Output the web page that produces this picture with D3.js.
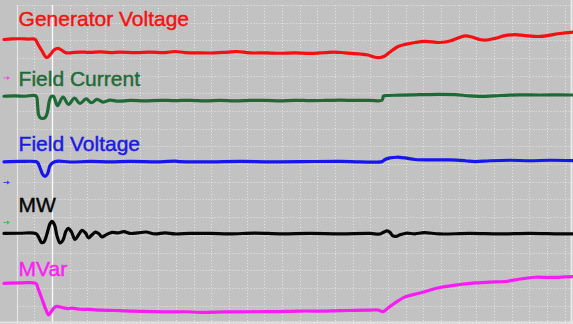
<!DOCTYPE html>
<html>
<head>
<meta charset="utf-8">
<script src="https://cdn.jsdelivr.net/npm/d3@7/dist/d3.min.js"></script>
<style>
  html, body { margin: 0; padding: 0; background: #c2c2c2; }
  svg { display: block; }
  text { font-family: "Liberation Sans", Arial, Helvetica, sans-serif; }
</style>
</head>
<body>
<svg id="scope" width="573" height="324"></svg>
<script>
// Time in screen divisions, deflection in divisions from each channel's zero level.
const genVoltT = [-0.72,-0.27,0.19,0.64,1.04,1.20,1.43,1.69,1.88,2.11,2.34,2.56,2.82,3.13,3.58,4.15,4.71,5.28,5.84,6.69,7.54,8.39,8.95,9.52,10.37,11.22,11.95,12.46,13.20,14.04,14.89,15.74,16.59,17.44,18.00,18.57,19.42,19.87,20.21,20.55,20.77,21.11,21.57,21.96,22.53,23.09,23.94,24.51,24.96,25.36,25.75,26.20,26.60,27.05,27.62,28.19,28.75,29.60,30.17,30.73,31.46];
const genVoltV = [-0.01,0.02,0.03,0.01,0,-0.27,-0.66,-1.03,-0.89,-0.61,-0.51,-0.63,-0.77,-0.75,-0.72,-0.74,-0.71,-0.75,-0.72,-0.75,-0.72,-0.75,-0.69,-0.75,-0.77,-0.77,-0.72,-0.69,-0.77,-0.77,-0.79,-0.77,-0.80,-0.75,-0.72,-0.77,-0.83,-0.89,-1.00,-1.03,-0.97,-0.72,-0.41,-0.29,-0.18,-0.12,-0.18,-0.10,0.07,0.19,0.13,-0.01,-0.04,0.05,0.21,0.27,0.21,0.16,0.24,0.33,0.41];

const fieldCurT = [-0.72,-0.10,0.47,1.09,1.18,1.23,1.32,1.46,1.63,1.74,1.83,1.94,2.08,2.31,2.62,2.93,3.27,3.58,3.92,4.23,4.54,4.88,5.28,5.73,6.41,7.26,8.11,8.95,9.80,10.65,11.50,12.35,13.20,14.04,14.89,15.74,16.59,17.44,18.29,19.13,19.98,20.66,20.75,20.89,21.68,22.81,23.94,24.79,25.64,26.49,27.34,28.47,29.60,30.73,31.46];
const fieldCurV = [-0.01,0.01,-0.01,0,-0.51,-1.02,-1.22,-1.27,-1.19,-0.90,-0.34,-0.04,-0.02,-0.54,-0.06,-0.47,-0.12,-0.42,-0.16,-0.38,-0.19,-0.34,-0.23,-0.29,-0.25,-0.27,-0.24,-0.26,-0.24,-0.27,-0.25,-0.27,-0.25,-0.24,-0.27,-0.24,-0.26,-0.25,-0.23,-0.25,-0.24,-0.24,0,0.03,0.05,0.08,0.10,0.08,0.01,-0.02,0.03,0.07,0.06,0.07,0.06];

const fieldVoltT = [-0.72,0.19,1.09,1.20,1.32,1.46,1.60,1.74,1.88,2.05,2.34,3.01,4.15,5.28,6.41,8.11,8.95,9.24,10.93,12.63,14.33,16.02,18.29,19.42,20.66,20.83,21.11,21.51,21.96,22.53,23.37,24.51,25.36,25.92,26.77,27.90,29.03,30.16,31.46];
const fieldVoltV = [-0.01,0.01,0,-0.07,-0.36,-0.70,-0.84,-0.70,-0.24,-0.05,0.03,-0.02,0.01,-0.01,0.01,-0.01,0.03,0,-0.01,0.01,-0.01,0,0.02,-0.01,0,0.12,0.21,0.25,0.21,0.12,0.10,0.10,0.05,0,0.05,0.08,0.05,0.08,0.06];

const mwT = [-0.72,0.19,1.09,1.26,1.40,1.54,1.71,1.88,2.00,2.14,2.28,2.45,2.62,2.79,2.93,3.10,3.30,3.50,3.69,3.89,4.06,4.26,4.46,4.66,4.82,5.05,5.39,5.73,6.07,6.41,6.86,7.31,7.82,8.39,8.95,9.80,10.93,12.06,13.48,14.89,16.59,18.29,19.98,20.55,20.78,20.94,21.11,21.28,21.45,21.68,22.02,22.53,23.04,23.94,25.64,27.34,29.03,30.73,31.46];
const mwV = [0,0.01,-0.01,-0.25,-0.51,-0.48,-0.03,0.54,0.68,0.48,-0.14,-0.54,-0.37,0.14,0.29,0.08,-0.34,-0.08,0.17,0.03,-0.25,-0.08,0.07,-0.03,-0.20,-0.08,0.06,0.03,0.10,0,0.03,0.08,-0.03,0.03,-0.03,0,0,-0.03,0.02,-0.02,0,-0.02,0,-0.03,0.08,0.14,0.06,-0.14,-0.17,-0.08,0.01,-0.02,0.04,-0.03,0,-0.03,0,-0.03,-0.02];

const mvarT = [-0.72,0.19,1.09,1.20,1.43,1.66,1.80,1.94,2.11,2.28,2.56,2.90,3.13,3.58,4.15,4.71,5.56,6.41,7.54,8.67,9.52,10.37,11.78,13.20,14.61,16.02,17.44,18.85,19.98,20.43,20.72,21.00,21.40,21.96,22.81,23.94,25.07,25.92,26.77,27.62,28.47,29.32,30.16,31.01,31.46];
const mvarV = [0,0.02,-0.01,-0.27,-0.89,-1.51,-1.79,-1.62,-1.40,-1.31,-1.37,-1.43,-1.40,-1.47,-1.48,-1.52,-1.54,-1.57,-1.60,-1.62,-1.61,-1.64,-1.62,-1.61,-1.60,-1.57,-1.57,-1.54,-1.52,-1.51,-1.60,-1.40,-1.11,-0.77,-0.55,-0.24,-0.07,0.02,0.07,0.10,0.24,0.34,0.33,0.36,0.38];

// Channel names, colours, zero levels and label rows (in divisions)
const channelNames  = ["Generator Voltage", "Field Current", "Field Voltage", "MW", "MVar"];
const channelColors = ["#f41010", "#1d6a35", "#1616ec", "#060606", "#f81cf2"];
const labelColors   = ["#f41212", "#1f6c38", "#1a1ae4", "#050505", "#fa22f4"];
const channelZero   = [7.06, 3.85, 0.14, -3.92, -6.74];
const labelRow      = [7.81, 4.42, 0.74, -2.70, -6.33];
const channelTimes  = [genVoltT, fieldCurT, fieldVoltT, mwT, mvarT];
const channelValues = [genVoltV, fieldCurV, fieldVoltV, mwV, mvarV];

// Ground markers on the left edge
const markerLevels = [4.87, -1.04, -3.30];
const markerColors = ["#e055e6", "#3a46e8", "#38c050"];

const W = 573, H = 324;
const divPx = 17.68;
const svg = d3.select("#scope");

const x = d3.scaleLinear().domain([0, 31]).range([16.7, 16.7 + 31 * divPx]);
const y = d3.scaleLinear().domain([9, -9]).range([5, 5 + 18 * divPx]);

svg.append("rect").attr("width", W).attr("height", H).attr("fill", "#c2c2c2");

// Graticule
const grid = svg.append("g").attr("stroke", "#ececec").attr("stroke-width", 1);
grid.selectAll("line.v").data(d3.range(1, 32)).join("line")
  .attr("x1", d => Math.round(x(d)) + 0.5).attr("x2", d => Math.round(x(d)) + 0.5)
  .attr("y1", y(9)).attr("y2", H)
  .attr("stroke-dasharray", "1,2").attr("opacity", 0.85);
grid.selectAll("line.h").data(d3.range(-9, 10)).join("line")
  .attr("x1", x(0)).attr("x2", W)
  .attr("y1", d => Math.round(y(d)) + 0.5).attr("y2", d => Math.round(y(d)) + 0.5)
  .attr("stroke-dasharray", "1,2").attr("opacity", 0.85);

// Left graticule edge and trigger cursor
svg.append("line")
  .attr("x1", Math.round(x(0)) + 0.5).attr("x2", Math.round(x(0)) + 0.5)
  .attr("y1", y(9)).attr("y2", H)
  .attr("stroke", "#e4e4e4").attr("stroke-width", 1.2);
svg.append("line")
  .attr("x1", Math.round(x(2)) + 0.5).attr("x2", Math.round(x(2)) + 0.5)
  .attr("y1", y(9)).attr("y2", H)
  .attr("stroke", "#fafafa").attr("stroke-width", 1.4);

// Frame edges
svg.append("line").attr("x1", W - 1.5).attr("x2", W - 1.5).attr("y1", 0).attr("y2", H)
  .attr("stroke", "#e8e8e8").attr("stroke-width", 2);
svg.append("line").attr("x1", 0).attr("x2", W).attr("y1", H - 1.5).attr("y2", H - 1.5)
  .attr("stroke", "#e2e2e2").attr("stroke-width", 2);

// Traces
const line = d3.line().curve(d3.curveCatmullRom.alpha(0.5));
channelNames.forEach((name, i) => {
  const pts = channelTimes[i].map((t, k) => [x(t), y(channelZero[i] + channelValues[i][k])]);
  svg.append("path")
    .attr("d", line(pts))
    .attr("fill", "none")
    .attr("stroke", channelColors[i])
    .attr("stroke-width", 3.2)
    .attr("stroke-linejoin", "round")
    .attr("stroke-linecap", "round");
});

// Labels
svg.selectAll("text.label").data(channelNames).join("text")
  .attr("class", "label")
  .attr("x", 18.6)
  .attr("y", (d, i) => y(labelRow[i]))
  .attr("fill", (d, i) => labelColors[i])
  .attr("stroke", (d, i) => labelColors[i])
  .attr("stroke-width", 0.45)
  .attr("font-size", 21)
  .text(d => d);

// Channel ground markers
markerLevels.forEach((lv, i) => {
  const yy = y(lv);
  const g = svg.append("g").attr("stroke", markerColors[i]).attr("fill", markerColors[i]);
  g.append("line").attr("x1", 3.5).attr("x2", 8).attr("y1", yy).attr("y2", yy).attr("stroke-width", 1);
  g.append("path").attr("d", `M${10},${yy} L${7},${yy - 2} L${7},${yy + 2} Z`).attr("stroke", "none");
});
</script>
</body>
</html>
